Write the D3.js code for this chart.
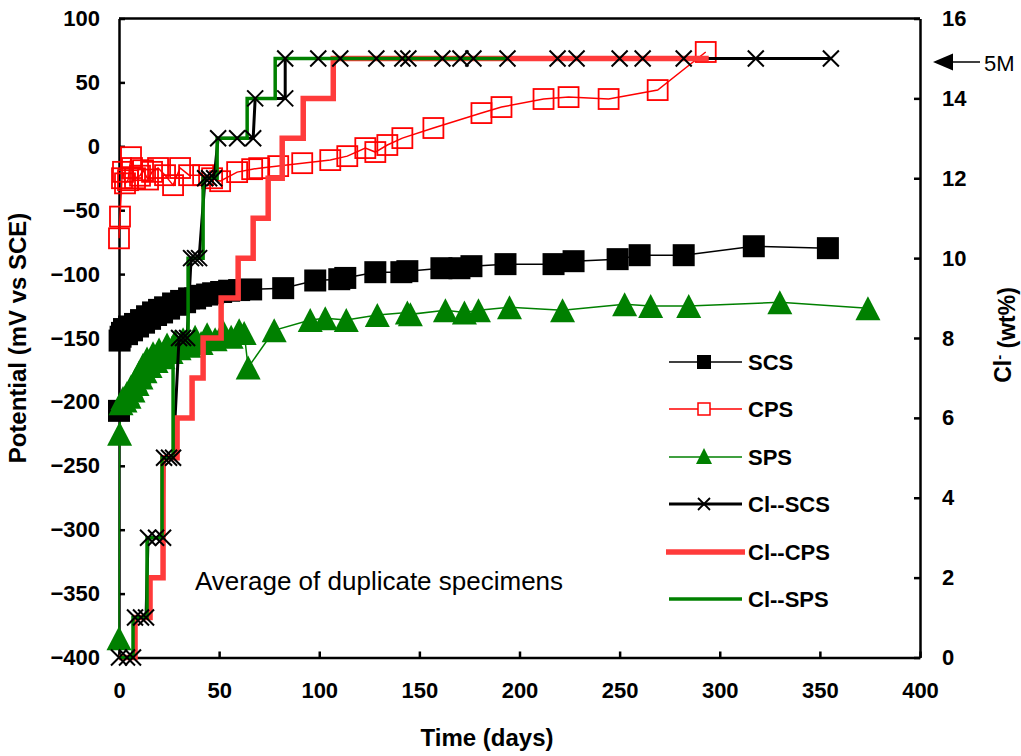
<!DOCTYPE html>
<html><head><meta charset="utf-8">
<script src="https://cdn.jsdelivr.net/npm/d3@7"></script>
<style>
body{margin:0;background:#fff;}
svg{display:block;font-family:Arial,"Liberation Sans",sans-serif;}
</style></head><body>
<svg id="chart" width="1021" height="756"></svg>
<script>
// ---- Potential readings (mV vs SCE) ----
const scsDays = [0, 0.3, 0.8, 1.5, 2.5, 4, 5, 6.5, 8, 9.5, 11, 12.5, 14, 15.5, 17, 18.5, 20, 21.5, 23, 25, 27, 29, 31, 33, 35, 38, 41, 44, 47, 51, 55, 60, 66, 82, 98, 110, 113, 128, 141, 144, 161, 170, 176, 193, 217, 227, 249, 260, 282, 317, 354];
const scsVals = [-207, -152, -149, -146, -143, -147, -141, -144, -139, -141, -136, -138, -133, -135, -130, -132, -128, -130, -126, -127, -123, -124, -121, -122, -119, -119, -117, -116, -115, -114, -113, -112.5, -112, -111, -105, -104, -103, -98.5, -98.5, -97.7, -95.4, -95.4, -93.8, -92.2, -92.2, -89.9, -88.3, -85.2, -85.2, -78.2, -79.7];

const cpsDays = [0, 0.5, 1.5, 2, 3, 4.5, 6, 6.5, 8, 10.5, 12, 14.5, 16.5, 19.5, 23, 27, 30.5, 35, 42, 46.5, 50.5, 59, 66.5, 70, 79.5, 91.5, 105.5, 114, 123, 128, 134, 141.5, 157, 181, 191, 212, 224.5, 244.5, 269, 293];
const cpsVals = [-72, -55, -25, -20, -29, -26.5, -8.5, -17, -25, -23, -18.7, -26, -20, -17, -22.6, -30.4, -17, -22.6, -22.6, -25, -27.3, -20.2, -17.9, -17.1, -15.5, -13.2, -10.8, -7.7, -1.4, -4.5, 1, 6.4, 14.3, 26, 30.7, 37, 38.5, 37, 44, 73.8];

const spsDays = [0, 0.3, 1, 2, 3, 4, 5, 6, 7, 8, 9, 10, 11, 12, 13, 14, 15.5, 17, 18.5, 20, 22, 24, 26, 28, 30, 32, 35, 38, 41, 44, 48, 52, 56, 60, 62.5, 64.5, 77.5, 95.5, 103, 113.5, 129, 144, 145.5, 163, 172.5, 179.5, 195, 221.5, 252.5, 265.5, 284.5, 330, 374];
const spsVals = [-385, -225, -201, -197, -199, -193, -196, -188, -191, -183, -186, -177, -181, -171, -176, -166, -172, -162, -168, -159, -165, -155, -161, -153, -158, -151, -156, -149, -154, -147, -151, -145, -149, -144, -146, -173, -144, -136, -134.5, -136, -132, -130, -131.5, -128.3, -130, -128.3, -126, -128.3, -123.6, -125, -125, -122, -126.7];

// ---- Chloride content (wt%) ----
const clScsDays = [0, 4, 7, 8, 11, 13.5, 14.5, 18.5, 22, 22.5, 25, 27, 30, 32, 34, 36, 38, 40, 43, 45, 47.5, 49.5, 59, 67, 68, 83, 83, 99.5, 110.5, 128.5, 141.5, 144.5, 161.5, 170.5, 177, 194, 219, 228.5, 250, 261.5, 282, 318, 355.5];
const clScsVals = [0, 0, 0, 1, 1, 1, 3, 3, 3, 5, 5, 5, 8, 8, 8, 10, 10, 10, 12, 12, 12, 13, 13, 13, 14, 14, 15, 15, 15, 15, 15, 15, 15, 15, 15, 15, 15, 15, 15, 15, 15, 15, 15];

// step series: level reached on each day, held until the next day listed
const clCpsDays = [0, 8, 15.5, 22, 29, 36.5, 42, 51, 59.5, 67, 74.5, 81.5, 92, 107, 294.5];
const clCpsVals = [0, 1, 2, 5, 6, 7, 8, 9, 10, 11, 12, 13, 14, 15, 15];
const clSpsDays = [0, 7, 14, 21.5, 27, 34.5, 42, 49, 64, 78, 194];
const clSpsVals = [0, 1, 3, 5, 8, 10, 12, 13, 14, 15, 15];

const xTicks = [0, 50, 100, 150, 200, 250, 300, 350, 400];
const yLeftTicks = [-400, -350, -300, -250, -200, -150, -100, -50, 0, 50, 100];
const yRightTicks = [0, 2, 4, 6, 8, 10, 12, 14, 16];

const legendNames = ["SCS", "CPS", "SPS", "Cl--SCS", "Cl--CPS", "Cl--SPS"];

// ---- layout ----
const L = 119, R = 920, T = 18.5, B = 657.5;
const GREEN = "#008000", RED = "#FF0000", RED_THICK = "#FF3B3B";
const svg = d3.select("#chart");

const x = d3.scaleLinear().domain([0, 400]).range([L, R]);
const yL = d3.scaleLinear().domain([-400, 100]).range([B, T]);
const yR = d3.scaleLinear().domain([0, 16]).range([B, T]);

const zip = (a, b) => a.map((d, i) => [d, b[i]]);
const scs = zip(scsDays, scsVals), cps = zip(cpsDays, cpsVals), sps = zip(spsDays, spsVals);
const clScs = zip(clScsDays, clScsVals), clCps = zip(clCpsDays, clCpsVals), clSps = zip(clSpsDays, clSpsVals);

const lineL = d3.line().x(d => x(d[0])).y(d => yL(d[1]));
const lineR = d3.line().x(d => x(d[0])).y(d => yR(d[1]));
const stepR = d3.line().x(d => x(d[0])).y(d => yR(d[1])).curve(d3.curveStepAfter);

const tickFont = g => g.selectAll("text").attr("font-size", 22).attr("font-weight", "bold").attr("fill", "#000")
  .attr("font-family", "Arial, 'Liberation Sans', sans-serif");

// axes (ticks point into the plot)
const gx = svg.append("g").attr("transform", `translate(0,${B})`)
  .call(d3.axisBottom(x).tickValues(xTicks).tickSize(-6).tickSizeOuter(0).tickPadding(25).tickFormat(d3.format("d")));
const gl = svg.append("g").attr("transform", `translate(${L},0)`)
  .call(d3.axisLeft(yL).tickValues(yLeftTicks).tickSize(-6).tickSizeOuter(0).tickPadding(19).tickFormat(d3.format("d")));
const gr = svg.append("g").attr("transform", `translate(${R},0)`)
  .call(d3.axisRight(yR).tickValues(yRightTicks).tickSize(-6).tickSizeOuter(0).tickPadding(22).tickFormat(d3.format("d")));
[gx, gl, gr].forEach(g => {
  tickFont(g);
  g.selectAll("line").attr("stroke", "#000").attr("stroke-width", 2.5);
  g.select(".domain").attr("stroke", "#000").attr("stroke-width", 2.5);
});
// top edge of frame
svg.append("line").attr("x1", L).attr("x2", R).attr("y1", T).attr("y2", T)
  .attr("stroke", "#000").attr("stroke-width", 2.5);

// ---- potential series ----
const plot = svg.append("g");
plot.append("path").datum(scs).attr("d", lineL).attr("fill", "none").attr("stroke", "#000").attr("stroke-width", 1.5);
plot.append("path").datum(cps).attr("d", lineL).attr("fill", "none").attr("stroke", RED).attr("stroke-width", 1.5);
plot.append("path").datum(sps).attr("d", lineL).attr("fill", "none").attr("stroke", GREEN).attr("stroke-width", 1.5);

const SQ = 22;
plot.selectAll(".scs").data(scs).join("rect")
  .attr("x", d => x(d[0]) - SQ / 2).attr("y", d => yL(d[1]) - SQ / 2)
  .attr("width", SQ).attr("height", SQ).attr("fill", "#000");
plot.selectAll(".cps").data(cps).join("rect")
  .attr("x", d => x(d[0]) - SQ / 2 + 1).attr("y", d => yL(d[1]) - SQ / 2 + 1)
  .attr("width", SQ - 2).attr("height", SQ - 2).attr("fill", "none").attr("stroke", RED).attr("stroke-width", 1.8);
const tri = (cx, cy, w, h) => `M${cx},${cy - h / 2}L${cx + w / 2},${cy + h / 2}L${cx - w / 2},${cy + h / 2}Z`;
plot.selectAll(".sps").data(sps).join("path")
  .attr("d", d => tri(x(d[0]), yL(d[1]), 25, 24)).attr("fill", GREEN);

// ---- chloride series ----
plot.append("path").datum(clScs).attr("d", lineR).attr("fill", "none").attr("stroke", "#000").attr("stroke-width", 3);
plot.append("path").datum(clCps).attr("d", stepR).attr("fill", "none").attr("stroke", RED_THICK).attr("stroke-width", 5.5);
plot.append("path").datum(clSps).attr("d", stepR).attr("fill", "none").attr("stroke", GREEN).attr("stroke-width", 3.5);

const cross = (cx, cy, s) => `M${cx - s},${cy - s}L${cx + s},${cy + s}M${cx - s},${cy + s}L${cx + s},${cy - s}`;
plot.selectAll(".clx").data(clScs).join("path")
  .attr("d", d => cross(x(d[0]), yR(d[1]), 8)).attr("stroke", "#000").attr("stroke-width", 2).attr("fill", "none");

// ---- legend ----
const lg = svg.append("g");
const rows = [362, 409, 457, 504, 552, 599];
const lx1 = 669, lx2 = 742, lm = 704;
rows.forEach((ry, i) => {
  const name = legendNames[i];
  if (i === 0) {
    lg.append("line").attr("x1", lx1).attr("x2", lx2).attr("y1", ry).attr("y2", ry).attr("stroke", "#000").attr("stroke-width", 1.5);
    lg.append("rect").attr("x", lm - 7).attr("y", ry - 7).attr("width", 14).attr("height", 14).attr("fill", "#000");
  } else if (i === 1) {
    lg.append("line").attr("x1", lx1).attr("x2", lx2).attr("y1", ry).attr("y2", ry).attr("stroke", RED).attr("stroke-width", 1.5);
    lg.append("rect").attr("x", lm - 6).attr("y", ry - 6).attr("width", 12).attr("height", 12).attr("fill", "#fff").attr("stroke", RED).attr("stroke-width", 1.5);
  } else if (i === 2) {
    lg.append("line").attr("x1", lx1).attr("x2", lx2).attr("y1", ry).attr("y2", ry).attr("stroke", GREEN).attr("stroke-width", 1.5);
    lg.append("path").attr("d", tri(lm, ry - 1, 16, 16)).attr("fill", GREEN);
  } else if (i === 3) {
    lg.append("line").attr("x1", lx1).attr("x2", lx2).attr("y1", ry).attr("y2", ry).attr("stroke", "#000").attr("stroke-width", 3);
    lg.append("path").attr("d", cross(lm, ry, 6)).attr("stroke", "#000").attr("stroke-width", 1.8);
  } else if (i === 4) {
    lg.append("line").attr("x1", lx1 - 3).attr("x2", lx2 + 3).attr("y1", ry).attr("y2", ry).attr("stroke", RED_THICK).attr("stroke-width", 5.5);
  } else {
    lg.append("line").attr("x1", lx1).attr("x2", lx2).attr("y1", ry).attr("y2", ry).attr("stroke", GREEN).attr("stroke-width", 3.5);
  }
  lg.append("text").attr("x", 748).attr("y", ry).attr("dy", "0.36em")
    .attr("font-size", 22).attr("font-weight", "bold").text(name);
});

// ---- annotations ----
svg.append("text").attr("x", 195).attr("y", 590).attr("font-size", 26).text("Average of duplicate specimens");

svg.append("path").attr("d", "M933,62L953,53.5L953,70.5Z").attr("fill", "#000");
svg.append("line").attr("x1", 950).attr("x2", 980).attr("y1", 62).attr("y2", 62).attr("stroke", "#000").attr("stroke-width", 1.5);
svg.append("text").attr("x", 984).attr("y", 70.5).attr("font-size", 22).text("5M");

// ---- axis titles ----
svg.append("text").attr("x", 487).attr("y", 746).attr("text-anchor", "middle")
  .attr("font-size", 24).attr("font-weight", "bold").text("Time (days)");
svg.append("text").attr("transform", "translate(26,338) rotate(-90)").attr("text-anchor", "middle")
  .attr("font-size", 24).attr("font-weight", "bold").text("Potential (mV vs SCE)");
const rt = svg.append("text").attr("transform", "translate(1011,335) rotate(-90)").attr("text-anchor", "middle")
  .attr("font-size", 23).attr("font-weight", "bold");
rt.append("tspan").text("Cl");
rt.append("tspan").attr("dy", "-0.45em").attr("font-size", 15).text("-");
rt.append("tspan").attr("dy", "0.45em").text("  (wt%)");
</script>
</body></html>
